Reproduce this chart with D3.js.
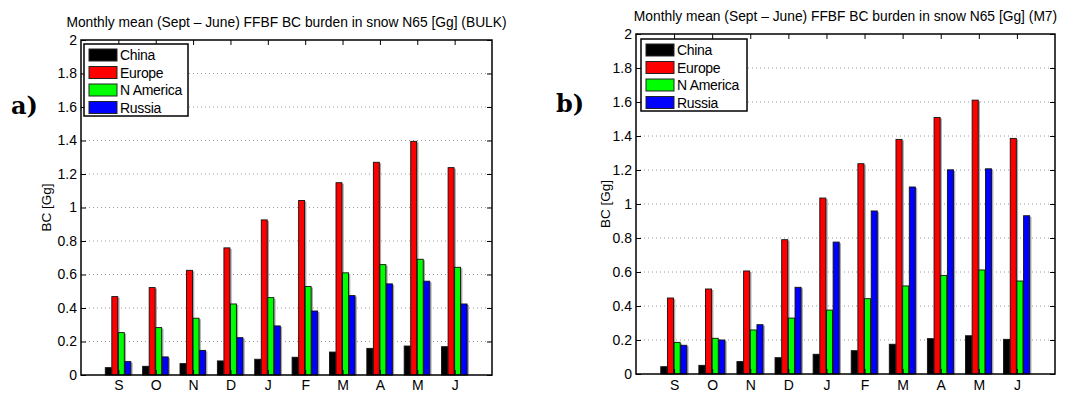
<!DOCTYPE html>
<html>
<head>
<meta charset="utf-8">
<script src="https://cdn.jsdelivr.net/npm/d3@7"></script>
<style>
  html, body { margin: 0; padding: 0; background: #fff; }
  svg { display: block; }
  text { font-family: "Liberation Sans", Arial, sans-serif; fill: #000; }
</style>
</head>
<body>
<svg id="chart" width="1080" height="393"></svg>
<script>
// Months from September through June
const months = ["S", "O", "N", "D", "J", "F", "M", "A", "M", "J"];
const regions = ["China", "Europe", "N America", "Russia"];
const regionColors = ["#000000", "#ff0000", "#00ff00", "#0000ff"];
const yTicks = [0, 0.2, 0.4, 0.6, 0.8, 1, 1.2, 1.4, 1.6, 1.8, 2];

// BULK scheme, BC burden in snow north of 65N [Gg]
const bulkChina   = [0.044, 0.052, 0.068, 0.084, 0.094, 0.106, 0.137, 0.159, 0.173, 0.169];
const bulkEurope  = [0.468, 0.522, 0.625, 0.759, 0.926, 1.042, 1.148, 1.270, 1.395, 1.238];
const bulkNAmer   = [0.253, 0.283, 0.339, 0.424, 0.462, 0.528, 0.610, 0.659, 0.691, 0.643];
const bulkRussia  = [0.080, 0.108, 0.147, 0.223, 0.293, 0.382, 0.474, 0.544, 0.560, 0.424];

// M7 scheme
const m7China  = [0.043, 0.051, 0.073, 0.096, 0.116, 0.137, 0.175, 0.208, 0.225, 0.204];
const m7Europe = [0.447, 0.500, 0.606, 0.790, 1.035, 1.237, 1.380, 1.509, 1.611, 1.386];
const m7NAmer  = [0.186, 0.210, 0.259, 0.329, 0.376, 0.443, 0.518, 0.580, 0.612, 0.547];
const m7Russia = [0.169, 0.200, 0.290, 0.510, 0.776, 0.959, 1.100, 1.201, 1.207, 0.931];

const titleText = "Monthly mean (Sept \u2013 June) FFBF BC burden in snow N65 [Gg]";

const panels = [
  { tag: "a)", scheme: "(BULK)", series: [bulkChina, bulkEurope, bulkNAmer, bulkRussia],
    box: { x0: 81, x1: 492, y0: 40, y1: 375 }, titleY: 27, tagX: 11, tagY: 114, ylabX: 51,
    legend: { x: 84, y: 44, w: 104, h: 72 } },
  { tag: "b)", scheme: "(M7)", series: [m7China, m7Europe, m7NAmer, m7Russia],
    box: { x0: 636, x1: 1055, y0: 34, y1: 374 }, titleY: 21, tagX: 556, tagY: 112, ylabX: 610,
    legend: { x: 641, y: 39, w: 106, h: 72 } }
];

const svg = d3.select("#chart");

panels.forEach(p => {
  const g = svg.append("g");
  const b = p.box;
  const x = d3.scaleLinear().domain([0, 11]).range([b.x0, b.x1]);
  const y = d3.scaleLinear().domain([0, 2]).range([b.y1, b.y0]);
  const unit = x(1) - x(0);
  const barW = 0.175;

  // dotted horizontal grid
  g.append("g").selectAll("line").data(yTicks.filter(t => t > 0 && t < 2)).join("line")
    .attr("x1", b.x0).attr("x2", b.x1)
    .attr("y1", d => y(d)).attr("y2", d => y(d))
    .attr("stroke", "#9a9a9a").attr("stroke-width", 1)
    .attr("stroke-dasharray", "1,3");

  // grouped bars
  p.series.forEach((vals, s) => {
    const off = (s - 1.5) * barW;
    const bars = g.append("g");
    bars.selectAll("rect.shadow").data(vals).join("rect")
      .attr("class", "shadow")
      .attr("x", (d, i) => x(i + 1 + off - barW / 2) + 1.2)
      .attr("y", d => y(d) + 1)
      .attr("width", barW * unit)
      .attr("height", d => y(0) - y(d) - 1)
      .attr("fill", "#a8a8a8");
    bars.selectAll("rect.bar").data(vals).join("rect")
      .attr("class", "bar")
      .attr("x", (d, i) => x(i + 1 + off - barW / 2))
      .attr("y", d => y(d))
      .attr("width", barW * unit - 0.6)
      .attr("height", d => y(0) - y(d))
      .attr("fill", regionColors[s])
      .attr("stroke", "#111").attr("stroke-width", 0.9);
  });

  // axes: ticks inside the box on all four sides
  const tickIdx = d3.range(1, 11);
  const yAxisL = d3.axisLeft(y).tickValues(yTicks).tickSize(-5).tickPadding(4)
    .tickFormat(d => d3.format("~g")(d));
  const yAxisR = d3.axisRight(y).tickValues(yTicks).tickSize(-5).tickFormat("");
  const xAxisB = d3.axisBottom(x).tickValues(tickIdx).tickSize(-5)
    .tickPadding(b.y1 > 374 ? 5 : 6)
    .tickFormat(i => months[i - 1]);
  const xAxisT = d3.axisTop(x).tickValues(tickIdx).tickSize(-5).tickFormat("");

  const axL = g.append("g").attr("transform", `translate(${b.x0},0)`).call(yAxisL);
  const axR = g.append("g").attr("transform", `translate(${b.x1},0)`).call(yAxisR);
  const axB = g.append("g").attr("transform", `translate(0,${b.y1})`).call(xAxisB);
  const axT = g.append("g").attr("transform", `translate(0,${b.y0})`).call(xAxisT);
  [axL, axR, axB, axT].forEach(a => {
    a.select(".domain").remove();
    a.selectAll(".tick line").attr("stroke", "#000").attr("stroke-width", 1);
    a.selectAll("text").style("font-family", "'Liberation Sans', Arial, sans-serif")
      .style("font-size", "14px").attr("fill", "#000");
  });
  axB.selectAll("text").attr("dy", "0.71em");

  // frame
  g.append("rect").attr("x", b.x0).attr("y", b.y0)
    .attr("width", b.x1 - b.x0).attr("height", b.y1 - b.y0)
    .attr("fill", "none").attr("stroke", "#000").attr("stroke-width", 1.5);

  // legend
  const L = p.legend;
  const lg = g.append("g");
  lg.append("rect").attr("x", L.x).attr("y", L.y).attr("width", L.w).attr("height", L.h)
    .attr("fill", "#fff").attr("stroke", "#000").attr("stroke-width", 1.5);
  regions.forEach((r, k) => {
    const ry = L.y + 5 + k * 17.5;
    lg.append("rect").attr("x", L.x + 5).attr("y", ry).attr("width", 28).attr("height", 12)
      .attr("fill", regionColors[k]).attr("stroke", "#222").attr("stroke-width", 1);
    lg.append("text").attr("x", L.x + 36).attr("y", ry + 11)
      .style("font-size", "14px").style("letter-spacing", "-0.3px").text(r);
  });

  // title
  g.append("text").attr("x", (b.x0 + b.x1) / 2).attr("y", p.titleY)
    .attr("text-anchor", "middle").style("font-size", "13.8px")
    .text(titleText + " " + p.scheme);

  // y label
  g.append("text")
    .attr("transform", `translate(${p.ylabX},${(b.y0 + b.y1) / 2}) rotate(-90)`)
    .attr("text-anchor", "middle").style("font-size", "13.5px").text("BC [Gg]");

  // panel tag
  g.append("text").attr("x", p.tagX).attr("y", p.tagY)
    .style("font-family", "'DejaVu Serif', 'Liberation Serif', serif")
    .style("font-weight", "bold").style("font-size", "24px").text(p.tag);
});
</script>
</body>
</html>
